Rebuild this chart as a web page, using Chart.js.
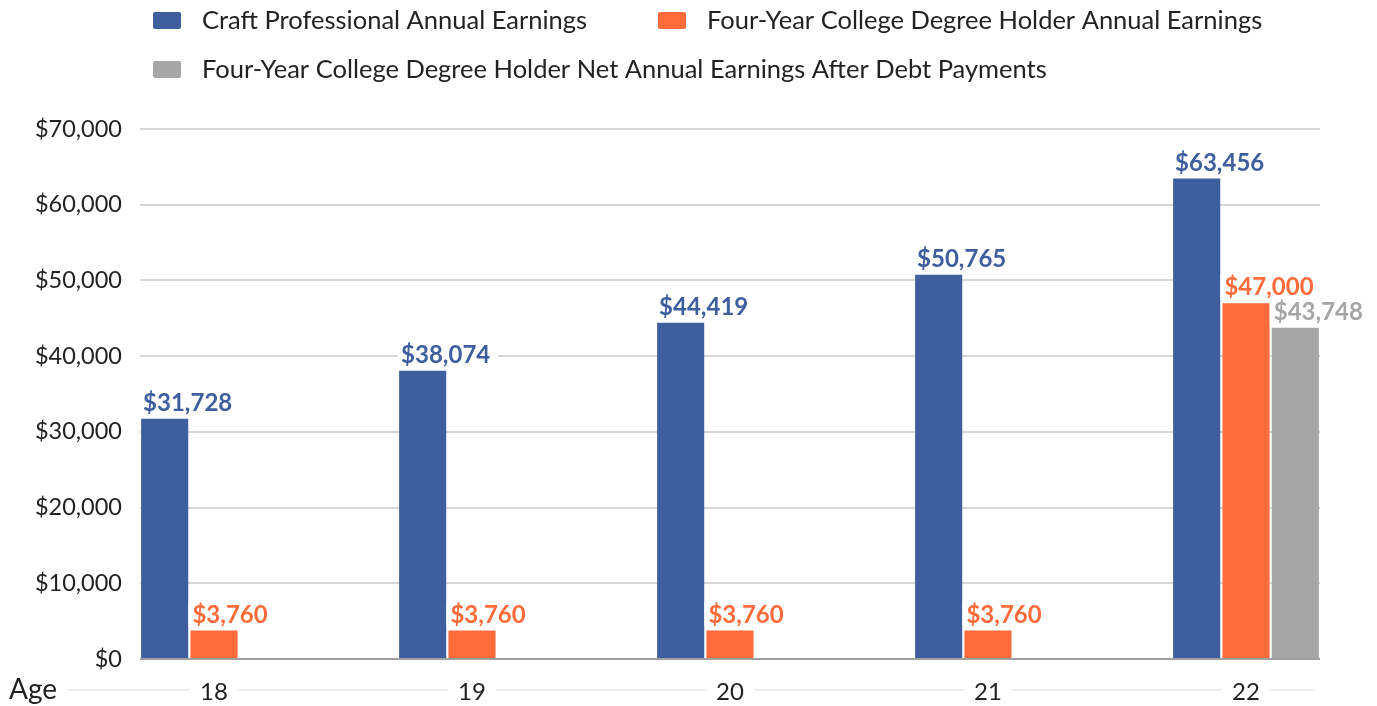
<!DOCTYPE html>
<html>
<head>
<meta charset="utf-8">
<script src="https://cdn.jsdelivr.net/npm/chart.js@4.4.1/dist/chart.umd.min.js"></script>
<style>
  html, body { margin: 0; padding: 0; background: #fff; }
  #wrap { width: 1377px; height: 706px; position: relative; }
</style>
</head>
<body>
<div id="wrap"><canvas id="earningsChart"></canvas></div>
<script>
const ages = [18, 19, 20, 21, 22];
const craftEarnings = [31728, 38074, 44419, 50765, 63456];
const degreeEarnings = [3760, 3760, 3760, 3760, 47000];
const degreeNetEarnings = [null, null, null, null, 43748];
const seriesNames = [
    'Craft Professional Annual Earnings',
    'Four-Year College Degree Holder Annual Earnings',
    'Four-Year College Degree Holder Net Annual Earnings After Debt Payments'
];
const seriesColors = ['#3e5e9d', '#ff6b3b', '#a6a6a6'];
const yTicks = [0, 10000, 20000, 30000, 40000, 50000, 60000, 70000];

const FONT = 'Lato, "Open Sans", sans-serif';
const money = v => '$' + v.toLocaleString('en-US');
const toPoints = arr => ages.map((a, i) => ({ x: a, y: arr[i] }));

// legend drawn by hand (two rows, left aligned)
const legendPlugin = {
    id: 'manualLegend',
    afterDraw(chart) {
        const c = chart.ctx;
        const spots = [[153, 20], [658, 20], [153, 69]];
        c.save();
        c.font = '25.5px ' + FONT;
        c.textBaseline = 'middle';
        chart.data.datasets.forEach((ds, i) => {
            const [x, y] = spots[i];
            c.fillStyle = ds.backgroundColor;
            c.beginPath();
            c.roundRect(x, y - 8, 28, 17, 2);
            c.fill();
            c.fillStyle = '#222';
            c.fillText(ds.label, x + 49, y + 1);
        });
        c.restore();
    }
};

// value labels on top of bars, white box behind
const valueLabels = {
    id: 'valueLabels',
    afterDatasetsDraw(chart) {
        const c = chart.ctx;
        c.save();
        c.font = 'bold 24px ' + FONT;
        c.textBaseline = 'alphabetic';
        const items = [];
        chart.data.datasets.forEach((ds, di) => {
            chart.getDatasetMeta(di).data.forEach((bar, i) => {
                const v = ds.data[i].y;
                if (v == null) return;
                const txt = money(v);
                items.push({
                    txt,
                    color: ds.backgroundColor,
                    x: bar.x - bar.width / 2 + 2,
                    y: bar.y - 8,
                    w: c.measureText(txt).width
                });
            });
        });
        c.fillStyle = '#fff';
        items.forEach(it => c.fillRect(it.x - 4, it.y - 20, it.w + 12, 23));
        items.forEach(it => {
            c.fillStyle = it.color;
            c.fillText(it.txt, it.x, it.y);
        });
        c.restore();
    }
};

// "Age" caption and the faint line through the x labels
const ageAxis = {
    id: 'ageAxis',
    afterDraw(chart) {
        const c = chart.ctx;
        const xs = chart.scales.x;
        const y = 690;
        c.save();
        c.font = '28px ' + FONT;
        c.fillStyle = '#222';
        c.textBaseline = 'middle';
        c.fillText('Age', 9, y);
        const left = 9 + c.measureText('Age').width + 11;
        const right = chart.chartArea.right - 6;
        c.font = '24px ' + FONT;
        const gaps = ages.map(a => {
            const px = xs.getPixelForValue(a);
            const hw = c.measureText(String(a)).width / 2 + 10;
            return [px - hw, px + hw];
        });
        c.strokeStyle = '#ececec';
        c.lineWidth = 2;
        c.beginPath();
        let from = left;
        gaps.forEach(([a, b]) => {
            c.moveTo(from, y);
            c.lineTo(a, y);
            from = b;
        });
        c.moveTo(from, y);
        c.lineTo(right, y);
        c.stroke();
        c.restore();
    }
};

const pad = 74 / 258;

new Chart(document.getElementById('earningsChart'), {
    type: 'bar',
    data: {
        datasets: [
            { label: seriesNames[0], data: toPoints(craftEarnings), backgroundColor: seriesColors[0] },
            { label: seriesNames[1], data: toPoints(degreeEarnings), backgroundColor: seriesColors[1] },
            { label: seriesNames[2], data: toPoints(degreeNetEarnings), backgroundColor: seriesColors[2] }
        ]
    },
    options: {
        responsive: true,
        maintainAspectRatio: false,
        animation: false,
        categoryPercentage: 148 / 258,
        barPercentage: 0.955,
        layout: { padding: { top: 129, right: 57, left: 0, bottom: 0 } },
        plugins: {
            legend: { display: false },
            tooltip: { enabled: false }
        },
        scales: {
            x: {
                type: 'linear',
                offset: false,
                min: ages[0] - pad,
                max: ages[ages.length - 1] + pad,
                afterBuildTicks: s => { s.ticks = ages.map(a => ({ value: a })); },
                afterFit: s => { s.height = 47; },
                grid: { display: false, drawTicks: false },
                border: { display: false },
                ticks: {
                    color: '#222',
                    font: { family: FONT, size: 24 },
                    padding: 19,
                    callback: v => String(v)
                }
            },
            y: {
                min: 0,
                max: 70000,
                afterBuildTicks: s => { s.ticks = yTicks.map(v => ({ value: v })); },
                afterFit: s => { s.width = 140; },
                grid: {
                    color: ctx => ctx.tick.value === 0 ? '#a0a0a0' : '#d6d6d6',
                    lineWidth: 2,
                    drawTicks: false
                },
                border: { display: false },
                ticks: {
                    color: '#222',
                    font: { family: FONT, size: 23.5 },
                    padding: 18,
                    callback: v => money(v)
                }
            }
        }
    },
    plugins: [legendPlugin, valueLabels, ageAxis]
});
</script>
</body>
</html>
